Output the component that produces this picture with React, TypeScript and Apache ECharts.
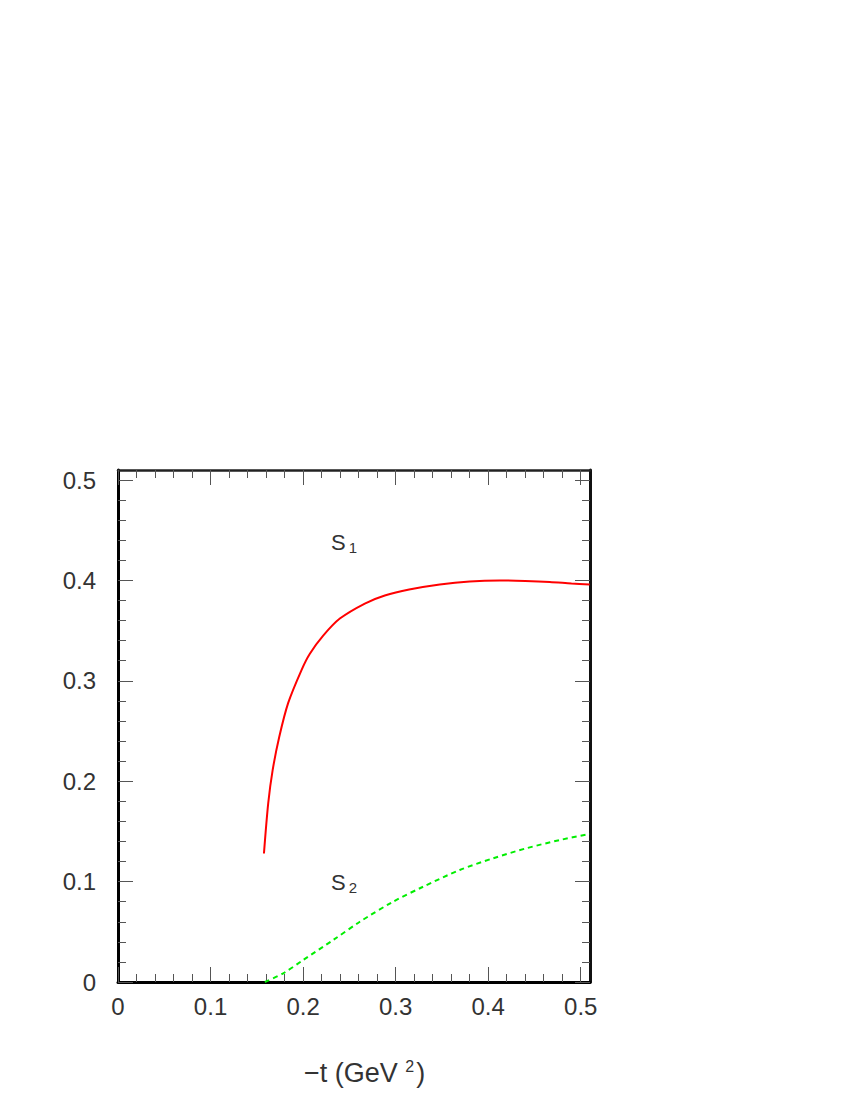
import React, { useEffect, useRef } from "react";
import * as echarts from "echarts";

const majorTicks = [0, 0.1, 0.2, 0.3, 0.4, 0.5];
const minorTicks = [0.02, 0.04, 0.06, 0.08, 0.12, 0.14, 0.16, 0.18, 0.22, 0.24, 0.26, 0.28, 0.32, 0.34, 0.36, 0.38, 0.42, 0.44, 0.46, 0.48];
const tickLabels = ["0", "0.1", "0.2", "0.3", "0.4", "0.5"];

const s1T = [0.1577, 0.1623, 0.1671, 0.1742, 0.1839, 0.1984, 0.2073, 0.2217, 0.2397, 0.2667, 0.2883, 0.3146, 0.3477, 0.38, 0.4125, 0.44, 0.4665, 0.49, 0.5097];
const s1V = [0.128, 0.178, 0.211, 0.244, 0.278, 0.311, 0.327, 0.345, 0.362, 0.377, 0.385, 0.391, 0.396, 0.399, 0.4, 0.3995, 0.3985, 0.397, 0.396];

const s2T = [0.1587, 0.1785, 0.2001, 0.2325, 0.2613, 0.2973, 0.3297, 0.3693, 0.4053, 0.4413, 0.4773, 0.5097];
const s2V = [0.0, 0.0087, 0.0219, 0.0418, 0.06, 0.08, 0.0949, 0.1116, 0.1232, 0.1332, 0.1414, 0.1474];

const AX_MIN = 0;
const AX_MAX = 0.51;
const FONT = "Liberation Sans";

function labelFor(v: number) {
  const i = majorTicks.findIndex((m) => Math.abs(m - v) < 1e-9);
  return i >= 0 ? tickLabels[i] : "";
}

function makeAxis(position: string, kind: "major" | "minor", showLabel: boolean, lineWidth: number, lineColor: string) {
  return {
    type: "value",
    position,
    min: AX_MIN,
    max: AX_MAX,
    splitLine: { show: false },
    axisLine: { show: kind === "major", onZero: false, lineStyle: { color: lineColor, width: lineWidth } },
    axisTick: {
      show: true,
      inside: true,
      length: kind === "major" ? 15 : 8,
      customValues: kind === "major" ? majorTicks : minorTicks,
      lineStyle: { color: "#555", width: 1 },
    },
    axisLabel: showLabel
      ? {
          show: true,
          customValues: majorTicks,
          formatter: (v: number) => labelFor(v),
          fontFamily: FONT,
          fontSize: 24,
          color: "#333",
          margin: position === "left" ? 22 : 12,
        }
      : { show: false },
  };
}

export default function App() {
  const ref = useRef<HTMLDivElement>(null);
  useEffect(() => {
    document.body.style.margin = "0";
    const chart = echarts.init(ref.current!, null, { renderer: "svg" });
    chart.setOption({
      animation: false,
      backgroundColor: "#fff",
      grid: { left: 118, top: 470, right: 260, bottom: 118, containLabel: false },
      xAxis: [
        makeAxis("bottom", "major", true, 3, "#000"),
        makeAxis("bottom", "minor", false, 1, "#000"),
        makeAxis("top", "major", false, 2.5, "#222"),
        makeAxis("top", "minor", false, 1, "#000"),
      ],
      yAxis: [
        makeAxis("left", "major", true, 3, "#000"),
        makeAxis("left", "minor", false, 1, "#000"),
        makeAxis("right", "major", false, 3, "#111"),
        makeAxis("right", "minor", false, 1, "#000"),
      ],
      series: [
        {
          name: "S1",
          type: "line",
          xAxisIndex: 0,
          yAxisIndex: 0,
          data: s1T.map((t, i) => [t, s1V[i]]),
          showSymbol: false,
          smooth: 0.3,
          lineStyle: { color: "#ff0000", width: 2 },
        },
        {
          name: "S2",
          type: "line",
          xAxisIndex: 0,
          yAxisIndex: 0,
          data: s2T.map((t, i) => [t, s2V[i]]),
          showSymbol: false,
          smooth: 0.3,
          lineStyle: { color: "#00ee00", width: 2, type: [5, 4] },
        },
      ],
      graphic: [
        {
          type: "text",
          left: 331,
          top: 531,
          style: {
            text: "{a|S}{b|1}",
            rich: {
              a: { fontFamily: FONT, fontSize: 22, fill: "#333" },
              b: { fontFamily: FONT, fontSize: 15, fill: "#333", padding: [11, 0, 0, 3] },
            },
          },
        },
        {
          type: "text",
          left: 331,
          top: 871,
          style: {
            text: "{a|S}{b|2}",
            rich: {
              a: { fontFamily: FONT, fontSize: 22, fill: "#333" },
              b: { fontFamily: FONT, fontSize: 15, fill: "#333", padding: [11, 0, 0, 3] },
            },
          },
        },
        {
          type: "text",
          left: 304,
          top: 1058,
          style: {
            text: "{a|\u2212t (GeV }{s|2}{a|)}",
            rich: {
              a: { fontFamily: FONT, fontSize: 27, fill: "#333" },
              s: { fontFamily: FONT, fontSize: 16, fill: "#333", padding: [0, 2, 13, 0] },
            },
          },
        },
      ],
    });
    return () => chart.dispose();
  }, []);
  return <div ref={ref} style={{ width: 850, height: 1100 }} />;
}
